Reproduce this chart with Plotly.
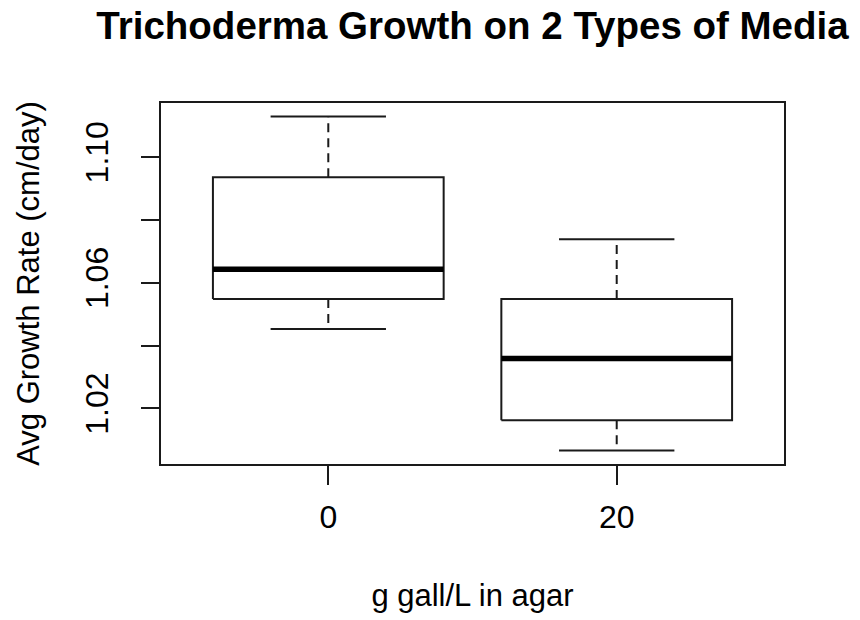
import plotly.graph_objects as go

# Data
categories = ["0", "20"]
positions = [1, 2]
lower_whisker = [1.0453, 1.0066]
q1 = [1.0548, 1.0162]
median = [1.0643, 1.0359]
q3 = [1.0936, 1.0548]
upper_whisker = [1.1129, 1.0738]

y_tickvals = [1.02, 1.04, 1.06, 1.08, 1.10]
y_ticktext = ["1.02", "", "1.06", "", "1.10"]

BOX_HALF = 0.4
CAP_HALF = 0.2
LINE = "#1a1a1a"
FONT = "Liberation Sans, Arial, sans-serif"

fig = go.Figure()

for i, x in enumerate(positions):
    # dashed whiskers
    fig.add_trace(go.Scatter(
        x=[x, x, None, x, x],
        y=[q3[i], upper_whisker[i], None, q1[i], lower_whisker[i]],
        mode="lines", line=dict(color=LINE, width=2, dash="9px,6px"),
        hoverinfo="skip", showlegend=False))
    # whisker caps
    fig.add_trace(go.Scatter(
        x=[x - CAP_HALF, x + CAP_HALF, None, x - CAP_HALF, x + CAP_HALF],
        y=[upper_whisker[i], upper_whisker[i], None, lower_whisker[i], lower_whisker[i]],
        mode="lines", line=dict(color=LINE, width=2),
        hoverinfo="skip", showlegend=False))
    # box
    fig.add_trace(go.Scatter(
        x=[x - BOX_HALF, x + BOX_HALF, x + BOX_HALF, x - BOX_HALF, x - BOX_HALF],
        y=[q1[i], q1[i], q3[i], q3[i], q1[i]],
        mode="lines", fill="toself", fillcolor="white",
        line=dict(color=LINE, width=2),
        hoverinfo="skip", showlegend=False))
    # median
    fig.add_trace(go.Scatter(
        x=[x - BOX_HALF, x + BOX_HALF],
        y=[median[i], median[i]],
        mode="lines", line=dict(color="black", width=5.5),
        hoverinfo="skip", showlegend=False))

fig.update_layout(
    width=860, height=620,
    margin=dict(l=161, r=76, t=103, b=156),
    paper_bgcolor="white", plot_bgcolor="white",
    font=dict(family=FONT, color="black", size=31),
    title=dict(text="<b>Trichoderma Growth on 2 Types of Media</b>",
               x=0.5, xref="paper", xanchor="center",
               y=1 - 26 / 620, yref="container", yanchor="middle",
               font=dict(size=38.5, family=FONT, color="black")),
    showlegend=False,
)

fig.update_xaxes(
    range=[0.42, 2.58], tickvals=positions, ticktext=categories,
    showgrid=False, zeroline=False,
    showline=True, mirror=True, linecolor=LINE, linewidth=2,
    ticks="outside", ticklen=19, tickwidth=2, tickcolor=LINE,
    tickfont=dict(size=32), ticklabelstandoff=5,
    title=dict(text="g gall/L in agar", font=dict(size=31), standoff=50),
)
fig.update_yaxes(
    range=[1.0023, 1.1172], tickvals=y_tickvals, ticktext=y_ticktext,
    tickangle=-90,
    showgrid=False, zeroline=False,
    showline=True, mirror=True, linecolor=LINE, linewidth=2,
    ticks="outside", ticklen=18, tickwidth=2, tickcolor=LINE,
    tickfont=dict(size=32), ticklabelstandoff=20,
    title=dict(text="Avg Growth Rate (cm/day)", font=dict(size=31), standoff=30),
)

fig.write_html("out.html", config={"displayModeBar": False},
               post_script="document.body.style.margin='0';")
